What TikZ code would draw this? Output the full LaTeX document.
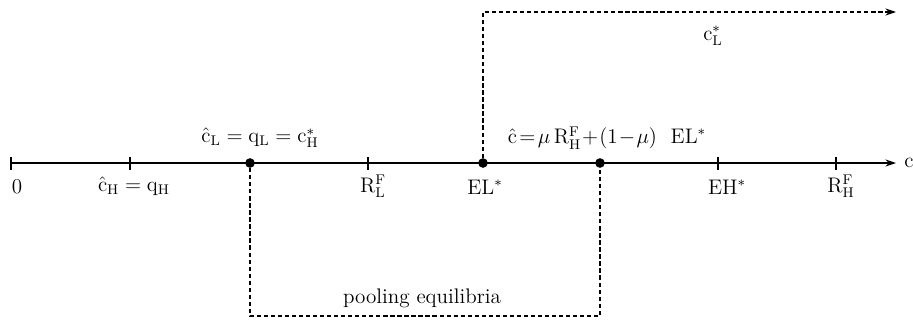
\documentclass[tikz,border=0pt]{standalone}
\usetikzlibrary{positioning,arrows.meta}

\begin{document}
\begin{tikzpicture}[x=.02cm,y=-.02cm,>={Stealth[length=6pt,width=4pt]},font=\large,
  dot/.style={circle,fill,inner sep=0pt,minimum size=5.5pt},
  tickmark/.style={line width=.7pt},
  dashline/.style={line width=.8pt,dash pattern=on 2.4pt off 1.6pt}]
\useasboundingbox (0,0) rectangle (913,321);
% the axis
\coordinate (origin) at (11,163);
\coordinate (cend) at (896,163);
\draw[->,line width=.8pt] (origin) -- (cend) node[right=1pt]{c};
\foreach \x in {11,130,368,718,836}
  \draw[tickmark] (\x,157) -- (\x,170);
\node[dot] (cL) at (250,163) {};
\node[dot] (EL) at (483,163) {};
\node[dot] (cpool) at (600,163) {};
% labels below
\node at (17,187) {0};
\node at (134,186) {$\hat{\mathrm{c}}_{\mathrm{H}}=\mathrm{q}_{\mathrm{H}}$};
\node at (373,186) {$\mathrm{R}^{\mathrm{F}}_{\mathrm{L}}$};
\node at (485,187) {EL$^*$};
\node at (727,187) {EH$^*$};
\node at (841,186) {$\mathrm{R}^{\mathrm{F}}_{\mathrm{H}}$};
% labels above
\node at (260,138) {$\hat{\mathrm{c}}_{\mathrm{L}}=\mathrm{q}_{\mathrm{L}}=\mathrm{c}^*_{\mathrm{H}}$};
\node at (607,138) {$\hat{\mathrm{c}}\!=\!\mu\,\mathrm{R}^{\mathrm{F}}_{\mathrm{H}}\!+\!(1\!-\!\mu)\ \ \mathrm{EL}^*$};
% separating line
\coordinate (topR) at (896,12);
\draw[dashline,->] (EL) |- (topR);
\node at (713,36) {$\mathrm{c}^*_{\mathrm{L}}$};
% pooling box
\coordinate (bot) at (425,316);
\draw[dashline] (cL) |- (bot) -| (cpool);
\node at (422,298) {pooling equilibria};
\end{tikzpicture}
\end{document}
